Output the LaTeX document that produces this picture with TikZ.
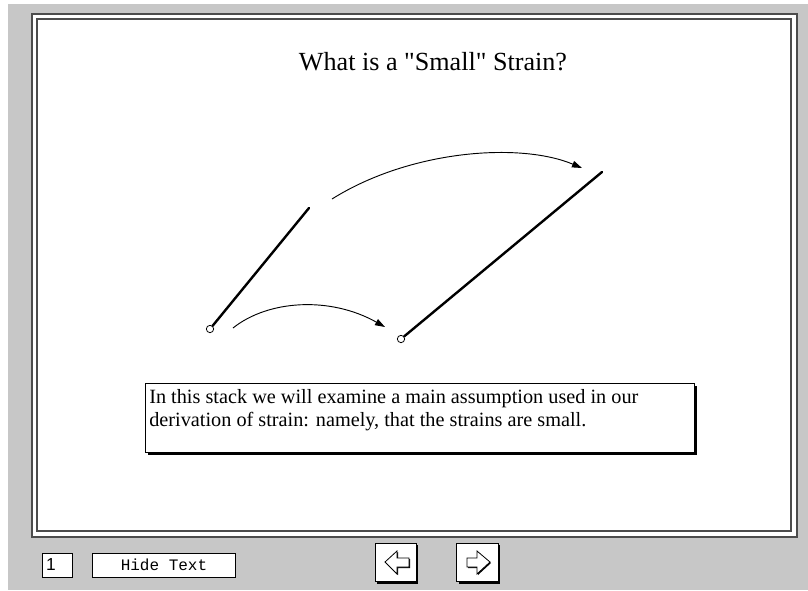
\documentclass[tikz,border=0pt]{standalone}
\usepackage{fontspec}
\setmainfont{Liberation Serif}[Ligatures=TeXOff]
\setsansfont{Liberation Sans}
\setmonofont{Liberation Mono}
\usetikzlibrary{arrows.meta,shadows}
\definecolor{dithergray}{gray}{0.78}
\definecolor{framegray}{gray}{0.3}

\begin{document}
\begin{tikzpicture}[x=0.75pt,y=-0.75pt]
\tikzset{
  endpoint/.style={circle,draw=black,fill=white,line width=0.6pt,minimum size=5.5pt,inner sep=0pt},
  barline/.style={draw=black,line width=1.8pt,line cap=round},
  motion/.style={draw=black,line width=0.7pt,-{Triangle[length=7.5pt,width=5pt]}},
  framebox/.style={draw=framegray,line width=1.3pt},
  notebox/.style={rectangle,draw=black,fill=white,line width=0.8pt,anchor=north west,
    inner xsep=2.8pt,inner ysep=1.2pt,
    font=\fontsize{15.2}{17.3}\selectfont,
    general shadow={fill=black,shadow xshift=2.2pt,shadow yshift=-2.2pt}},
  fieldbox/.style={rectangle,draw=black,fill=white,line width=0.6pt,minimum height=18pt,inner sep=2pt},
  navbutton/.style={rectangle,draw=black,fill=white,line width=0.7pt,minimum width=31pt,minimum height=29pt,
    general shadow={fill=black,shadow xshift=1.3pt,shadow yshift=-1.3pt}},
  navglyph/.style={draw=black,fill=white,line width=0.6pt,line join=miter}
}
\useasboundingbox (0,0) rectangle (808,590);
% card background
\fill[white] (0,0) rectangle (808,590);
\fill[dithergray] (8,4) rectangle (808,590);
\fill[white] (32,14) rectangle (797,537);
\draw[framebox] (32,14) rectangle (797,537);
\draw[framebox] (37,19) rectangle (791,531);
% title
\node[font=\fontsize{19.6}{22}\selectfont] (title) at (433,62) {What is a "Small" Strain?};
% line before and after
\node[endpoint] (n_A0) at (210,329) {};
\coordinate (n_A1) at (309,208);
\node[endpoint] (n_B0) at (401,339) {};
\coordinate (n_B1) at (602,172);
\draw[barline] (n_A0) -- (n_A1);
\draw[barline] (n_B0) -- (n_B1);
% motion arcs
\coordinate (lo_from) at (233,328);
\coordinate (lo_to) at (385,327);
\coordinate (up_from) at (332,199);
\coordinate (up_to) at (582,168);
\draw[motion] (lo_from) .. controls (268,300) and (330,296) .. (lo_to);
\draw[motion] (up_from) .. controls (410,150) and (520,142) .. (up_to);
% text field
\node[notebox] (note) at (145,383) {\parbox[t][49.3pt][t]{406pt}{\vspace*{3.5pt}\parbox[t]{390pt}{\raggedright In this stack we will examine a main assumption used in our derivation of strain: namely, that the strains are small.}}};
% bottom controls
\node[fieldbox,minimum width=23pt,text width=17pt,align=left,font=\sffamily\fontsize{13}{14}\selectfont] (page) at (57.5,565) {1};
\node[fieldbox,minimum width=107pt,font=\ttfamily\fontsize{12}{14}\selectfont] (hide) at (164,565) {Hide Text};
\node[navbutton] (prev) at (396,562.5) {};
\node[navbutton] (next) at (477.5,562.5) {};
\fill[black] (386,563) -- (398,552) -- (398,559) -- (410,559) -- (410,568) -- (398,568) -- (398,575) -- cycle;
\draw[navglyph] (385,562) -- (397,551) -- (397,558) -- (409,558) -- (409,567) -- (397,567) -- (397,574) -- cycle;
\fill[black] (491,563) -- (478,552) -- (478,559) -- (468,559) -- (468,568) -- (478,568) -- (478,575) -- cycle;
\draw[navglyph] (490,562) -- (477,551) -- (477,558) -- (467,558) -- (467,567) -- (477,567) -- (477,574) -- cycle;
\end{tikzpicture}
\end{document}
